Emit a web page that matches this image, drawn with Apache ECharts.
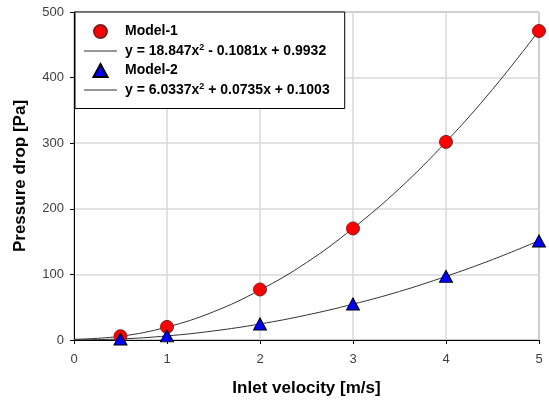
<!DOCTYPE html>
<html>
<head>
<meta charset="utf-8">
<script src="https://cdn.jsdelivr.net/npm/echarts@6/dist/echarts.min.js"></script>
<style>html,body{margin:0;padding:0;background:#fff}#c{width:549px;height:402px}</style>
</head>
<body>
<div id="c"></div>
<script>
// Measured points
var velocity = [0.5, 1, 2, 3, 4, 5];
var model1 = [5.8, 20, 77, 170, 302, 471];
var model2 = [1.6, 6.3, 24.5, 55, 97, 151];
// Trend curves
var trendX = [0, 0.5, 1, 1.5, 2, 2.5, 3, 3.5, 4, 4.5, 5];
var trend1 = [1.0, 5.7, 19.7, 43, 76.2, 118, 170.3, 231, 302, 382, 471.6];
var trend2 = [0.1, 1.6, 6.2, 13.8, 24.4, 38, 54.6, 74, 97, 122.6, 151.3];
// Tick labels / texts
var xTicks = [0, 1, 2, 3, 4, 5];
var yTicks = [0, 100, 200, 300, 400, 500];
var eq1 = 'y = 18.847x{sup|2} - 0.1081x + 0.9932';
var eq2 = 'y = 6.0337x{sup|2} + 0.0735x + 0.1003';

function pairs(xs, ys) { return xs.map(function (x, i) { return [x, ys[i]]; }); }

var FONT = 'Liberation Sans, Arial';
var lineIcon = 'path://M0,0L33,0L33,1L0,1Z';
var triIcon = 'path://M0,12L6.5,0L13,12Z';
var chart = echarts.init(document.getElementById('c'), null, {renderer: 'canvas'});
var labelNames = {'Model-1': 'Model-1', 'trend1': eq1, 'Model-2': 'Model-2', 'trend2': eq2};
chart.setOption({
  animation: false,
  backgroundColor: '#ffffff',
  grid: {left: 74, right: 10, top: 12, bottom: 62, show: true, borderColor: '#666', borderWidth: 1, backgroundColor: 'transparent'},
  xAxis: {
    type: 'value', min: xTicks[0], max: xTicks[xTicks.length - 1], interval: 1,
    name: 'Inlet velocity [m/s]', nameLocation: 'middle', nameGap: 40,
    nameTextStyle: {fontFamily: FONT, fontWeight: 'bold', fontSize: 17, color: '#000'},
    axisLine: {show: true, lineStyle: {color: '#000', width: 1}},
    axisTick: {show: true, length: 4, lineStyle: {color: '#000'}},
    axisLabel: {fontFamily: FONT, fontSize: 13, color: '#404040', margin: 13},
    splitLine: {show: true, lineStyle: {color: '#d9d9d9', width: 1.5}}
  },
  yAxis: {
    type: 'value', min: yTicks[0], max: yTicks[yTicks.length - 1], interval: 100,
    name: 'Pressure drop [Pa]', nameLocation: 'middle', nameGap: 45, nameRotate: 90,
    nameTextStyle: {fontFamily: FONT, fontWeight: 'bold', fontSize: 17, color: '#000'},
    axisLine: {show: true, lineStyle: {color: '#000', width: 1}},
    axisTick: {show: true, length: 4, lineStyle: {color: '#000'}},
    axisLabel: {fontFamily: FONT, fontSize: 13, color: '#404040', margin: 10},
    splitLine: {show: true, lineStyle: {color: '#d9d9d9', width: 1.5}}
  },
  legend: {
    orient: 'vertical', left: 75, top: 12,
    backgroundColor: '#fff', borderColor: '#000', borderWidth: 1,
    padding: [12, 15, 11, 9],
    itemWidth: 33, itemHeight: 13, itemGap: 4.5,
    symbolKeepAspect: true,
    data: [
      {name: 'Model-1', icon: 'circle'},
      {name: 'trend1', icon: lineIcon},
      {name: 'Model-2', icon: triIcon},
      {name: 'trend2', icon: lineIcon}
    ],
    formatter: function (n) { return labelNames[n]; },
    textStyle: {
      fontFamily: FONT, fontWeight: 'bold', fontSize: 14, color: '#000', lineHeight: 15, padding: [0, 0, 0, 3],
      rich: {sup: {fontFamily: FONT, fontWeight: 'bold', fontSize: 9, color: '#000', verticalAlign: 'top', lineHeight: 9}}
    }
  },
  series: [
    {name: 'Model-1', type: 'scatter', data: pairs(velocity, model1), symbol: 'circle', symbolSize: 13, z: 5,
     itemStyle: {color: '#ff0000', borderColor: '#7a2020', borderWidth: 1, opacity: 1}},
    {name: 'trend1', type: 'line', data: pairs(trendX, trend1), smooth: 0.4, symbol: 'none', z: 3,
     lineStyle: {color: '#333', width: 1}, itemStyle: {color: '#333'}},
    {name: 'Model-2', type: 'scatter', data: pairs(velocity, model2), symbol: 'triangle', symbolSize: [13, 12], z: 5,
     itemStyle: {color: '#0000ff', borderColor: '#000', borderWidth: 1, opacity: 1}},
    {name: 'trend2', type: 'line', data: pairs(trendX, trend2), smooth: 0.4, symbol: 'none', z: 3,
     lineStyle: {color: '#333', width: 1}, itemStyle: {color: '#333'}}
  ]
});
</script>
</body>
</html>
